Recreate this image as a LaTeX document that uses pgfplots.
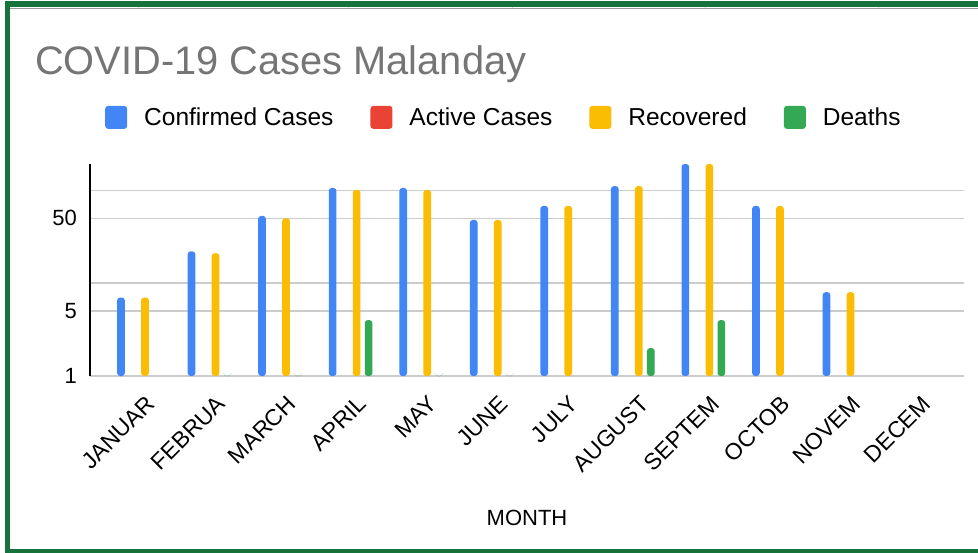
\documentclass[border=0pt]{standalone}
\usepackage{pgfplots}
\pgfplotsset{compat=1.18}
\usepackage{fontspec}
\setmainfont{Liberation Sans}
\definecolor{cblue}{HTML}{4285F4}
\definecolor{cred}{HTML}{EA4335}
\definecolor{cyellow}{HTML}{FBBC04}
\definecolor{cgreen}{HTML}{34A853}
\definecolor{gridgray}{HTML}{CCCCCC}
\definecolor{titlegray}{HTML}{757575}
\definecolor{framegreen}{RGB}{22,115,60}
\begin{document}
\begin{tikzpicture}
\useasboundingbox (0pt,0pt) rectangle (978pt,-553pt);
\fill[white] (0pt,0pt) rectangle (978pt,-553pt);
% frame
\fill[framegreen] (5pt,-1pt) rectangle (978pt,-7pt);
\fill[framegreen] (5pt,-1pt) rectangle (10pt,-553pt);
\fill[framegreen] (5pt,-548.5pt) rectangle (978pt,-553pt);
\draw[line width=1pt, color=gray!80] (10pt,-9pt) -- (978pt,-9pt);
\foreach \xx in {138,348,512,705,878}{\draw[line width=1pt, color=gray!30] (\xx pt,-7pt) -- (\xx pt,-8.5pt);}
% title
\node[anchor=base west, inner sep=0pt, text=titlegray, font=\fontsize{39.8}{46}\selectfont] at (35pt,-75pt) {COVID-19 Cases Malanday};
\begin{axis}[
  at={(90pt,-376pt)}, anchor=south west,
  width=874pt, height=212pt, scale only axis,
  ymode=log, ymin=1, ymax=192,
  xmin=-0.694, xmax=11.694,
  xtick={0,...,11},
  xticklabels={JANUAR,FEBRUA,MARCH,APRIL,MAY,JUNE,JULY,AUGUST,SEPTEM,OCTOB,NOVEM,DECEM},
  ytick={1,5,10,50,100},
  yticklabels={1,5,,50,},
  minor ytick={},
  ymajorgrids,
  grid style={color=gridgray, line width=1.5pt},
  tick style={draw=none},
  major tick length=0pt, minor tick length=0pt,
  axis lines*=left,
  x axis line style={draw=none},
  y axis line style={black, line width=2pt},
  ybar=4.3pt, bar width=7.7pt,
  yticklabel style={font=\fontsize{22}{26}\selectfont, inner sep=0pt, anchor=east, xshift=-13pt},
  xticklabel style={font=\fontsize{23}{27}\selectfont, inner sep=0pt, xshift=6pt, yshift=-18pt, rotate=45, anchor=north east},
  xlabel={MONTH},
  every axis x label/.style={at={(axis description cs:0.5,-0.7075)}, anchor=base, font=\fontsize{22}{26}\selectfont},
  legend columns=4,
  legend cell align=left,
  legend style={at={(0.01716,1.22)}, anchor=west, draw=none, fill=none, inner sep=0pt,
    font=\fontsize{24.5}{29}\selectfont,
    nodes={inner sep=0pt},
    /tikz/every odd column/.append style={column sep=17pt},
    /tikz/every even column/.append style={column sep=37pt}},
  legend image code/.code={\path[#1, draw=none, rounded corners=3pt] (0pt,-11.5pt) rectangle (22pt,11.5pt);},
]
\addplot[fill=cblue, draw=none, rounded corners=3pt] coordinates {(0,7) (1,22) (2,53) (3,106) (4,106) (5,48) (6,68) (7,111) (8,192) (9,68) (10,8)};
\addplot[fill=cred, draw=none, rounded corners=3pt] coordinates {(13,1)};
\addplot[fill=cyellow, draw=none, rounded corners=3pt] coordinates {(0,7) (1,21) (2,50) (3,101) (4,101) (5,48) (6,68) (7,111) (8,192) (9,68) (10,8)};
\addplot[fill=cgreen, draw=none, rounded corners=3pt] coordinates {(1,1) (2,1) (3,4) (4,1) (5,1) (7,2) (8,4)};
\legend{Confirmed Cases, Active Cases, Recovered, Deaths}
\end{axis}
\end{tikzpicture}
\end{document}
